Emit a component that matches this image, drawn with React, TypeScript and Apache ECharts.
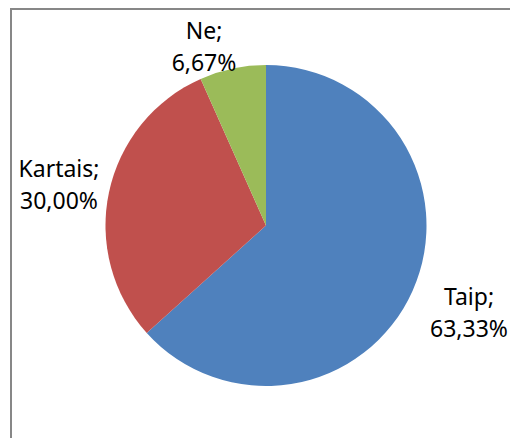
import React, { useEffect, useRef } from "react";
import * as echarts from "echarts";

const categories = ["Taip", "Kartais", "Ne"];
const values = [63.33, 30.0, 6.67];
const colors = ["#4F81BD", "#C0504D", "#9BBB59"];
// label anchor centres (layout only)
const labelPos: [number, number][] = [
  [469, 312],
  [59, 184],
  [204, 46],
];

export default function App() {
  const ref = useRef<HTMLDivElement>(null);
  useEffect(() => {
    if (!ref.current) return;
    const chart = echarts.init(ref.current, undefined, { renderer: "svg" });
    chart.setOption({
      animation: false,
      backgroundColor: "#ffffff",
      graphic: [
        {
          type: "rect",
          shape: { x: 11, y: 9, width: 600, height: 500 },
          style: { fill: "none", stroke: "#878787", lineWidth: 2 },
          silent: true,
        },
      ],
      series: [
        {
          type: "pie",
          center: [266, 225.5],
          radius: [0, 160.5],
          startAngle: 90,
          clockwise: true,
          data: categories.map((c, i) => ({
            name: c,
            value: values[i],
            itemStyle: { color: colors[i] },
          })),
          itemStyle: { borderWidth: 0 },
          label: {
            show: true,
            position: "outside",
            alignTo: "none",
            overflow: "none",
            formatter: (p: any) =>
              p.name + ";\n" + values[p.dataIndex].toFixed(2).replace(".", ",") + "%",
            fontFamily: "Noto Sans",
            fontSize: 23,
            lineHeight: 32,
            color: "#000000",
            align: "center",
          },
          labelLine: { show: false },
          labelLayout: (params: any) => ({
            x: labelPos[params.dataIndex][0],
            y: labelPos[params.dataIndex][1],
            align: "center",
            verticalAlign: "middle",
          }),
          emphasis: { disabled: true },
        },
      ],
    });
    return () => chart.dispose();
  }, []);
  return (
    <div
      ref={ref}
      style={{ position: "absolute", left: 0, top: 0, width: 510, height: 438 }}
    />
  );
}
